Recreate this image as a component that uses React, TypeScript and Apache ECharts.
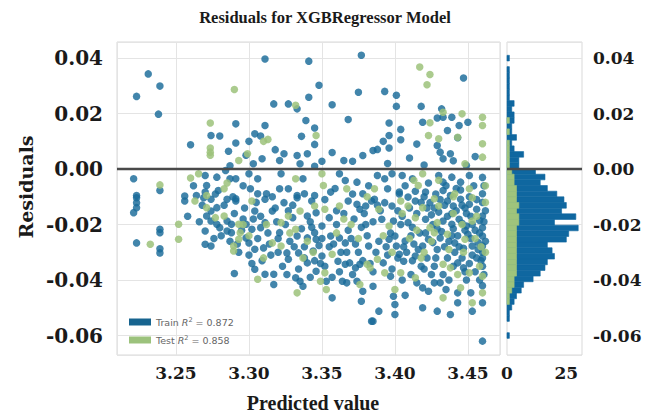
import React, { useEffect, useRef } from 'react';
import * as echarts from 'echarts';

const TITLE = 'Residuals for XGBRegressor Model';
const X_NAME = 'Predicted value';
const Y_NAME = 'Residuals';
const TRAIN_R2 = '0.872';
const TEST_R2 = '0.858';

const X_MIN = 3.2096;
const X_MAX = 3.472;
const Y_MIN = -0.067;
const Y_MAX = 0.0458;
const HIST_MAX = 31.6;
const HIST_TICKS = 25;

// histogram bins (bottom -> top)
const HIST_BIN_START = -0.061;
const HIST_BIN_WIDTH = 0.00204;
const trainHistCounts = [
  1, 0, 0, 1, 1, 2, 3, 4, 6, 7, 11, 14, 16, 17, 20, 19, 17, 25, 26, 30,
  20, 29, 23, 25, 24, 21, 17, 14, 16, 12, 5, 5, 7, 3, 2, 4, 2, 2, 3, 3,
  2, 3, 1, 1, 1, 1, 1, 1, 0, 1,
];
const testHistCounts = [
  0, 0, 0, 0, 0, 0, 1, 1, 2, 3, 3, 4, 4, 4, 4, 4, 4, 4, 4, 4,
  5, 5, 4, 5, 4, 4, 4, 3, 3, 2, 1, 1, 1, 1, 1, 0, 1, 0, 1, 0,
  0, 0, 0, 0, 0, 0, 0, 0, 0, 0,
];

const trainPoints = [
  [3.231, 0.0343], [3.239, 0.0299], [3.223, 0.0262], [3.238, 0.0198], [3.291, 0.0163], [3.274, 0.0121], [3.280, 0.0119], [3.260, 0.0088], [3.291, 0.0094], [3.286, 0.0064],
  [3.221, -0.0035], [3.239, -0.0077], [3.223, -0.0095], [3.223, -0.0103], [3.223, -0.0121], [3.223, -0.0139], [3.221, -0.0157], [3.239, -0.0217], [3.239, -0.0229], [3.223, -0.0266], [3.239, -0.0287], [3.239, -0.0302],
  [3.256, -0.0115], [3.258, -0.0170], [3.270, -0.0271], [3.274, -0.0277], [3.270, -0.0223], [3.290, -0.0376],
  [3.256, -0.0097], [3.270, -0.0023], [3.271, -0.0059], [3.270, -0.0083], [3.278, -0.0029], [3.284, -0.0005], [3.287, -0.0035], [3.291, -0.0035], [3.279, -0.0077], [3.291, -0.0107], [3.264, -0.0095],
  [3.269, -0.0103], [3.274, -0.0109], [3.274, -0.0151], [3.278, -0.0139], [3.285, -0.0109], [3.291, -0.0115], [3.271, -0.0169], [3.274, -0.0187], [3.278, -0.0199], [3.280, -0.0211], [3.285, -0.0187], [3.288, -0.0199], [3.285, -0.0223], [3.288, -0.0229], [3.298, -0.0248],
  [3.311, -0.0109], [3.324, -0.0121], [3.333, -0.0103], [3.343, -0.0115], [3.368, -0.0115], [3.374, -0.0127], [3.376, -0.0145], [3.380, -0.0133], [3.384, -0.0115],
  [3.304, -0.0151], [3.316, -0.0151], [3.340, -0.0169], [3.346, -0.0157],
  [3.298, -0.0199], [3.302, -0.0217], [3.308, -0.0211], [3.311, -0.0193], [3.321, -0.0229], [3.333, -0.0241], [3.340, -0.0248], [3.345, -0.0229], [3.346, -0.0253], [3.356, -0.0241], [3.362, -0.0248], [3.366, -0.0266], [3.382, -0.0277],
  [3.300, -0.0266], [3.304, -0.0289], [3.310, -0.0284], [3.326, -0.0302], [3.327, -0.0325], [3.334, -0.0302], [3.340, -0.0338], [3.344, -0.0295], [3.350, -0.0313], [3.361, -0.0332], [3.366, -0.0343], [3.369, -0.0338], [3.373, -0.0356], [3.376, -0.0343],
  [3.304, -0.0361], [3.311, -0.0379], [3.317, -0.0379], [3.317, -0.0416], [3.332, -0.0392], [3.335, -0.0404], [3.337, -0.0422], [3.353, -0.0404], [3.346, -0.0368], [3.364, -0.0404], [3.367, -0.0410], [3.374, -0.0404], [3.378, -0.0440], [3.357, -0.0464], [3.377, -0.0476], [3.384, -0.0548],
  [3.460, -0.0620], [3.389, -0.0512], [3.400, -0.0524], [3.419, -0.0500], [3.429, -0.0512], [3.438, -0.0524], [3.453, -0.0512], [3.460, -0.0482], [3.407, -0.0455], [3.400, -0.0488], [3.385, -0.0548], [3.443, -0.0482],
  [3.386, -0.0109], [3.393, -0.0121], [3.398, -0.0133], [3.414, -0.0115], [3.424, -0.0121], [3.436, -0.0115], [3.440, -0.0133], [3.445, -0.0109], [3.451, -0.0127], [3.460, -0.0169],
  [3.391, -0.0181], [3.399, -0.0187], [3.409, -0.0193], [3.421, -0.0181], [3.433, -0.0187], [3.439, -0.0199], [3.444, -0.0181], [3.449, -0.0205], [3.460, -0.0211],
  [3.396, -0.0253], [3.400, -0.0241], [3.401, -0.0277], [3.407, -0.0259], [3.419, -0.0277], [3.423, -0.0253], [3.431, -0.0248], [3.441, -0.0266], [3.453, -0.0277], [3.460, -0.0277], [3.460, -0.0241],
  [3.392, -0.0338], [3.403, -0.0307], [3.406, -0.0332], [3.414, -0.0313], [3.422, -0.0320], [3.427, -0.0350], [3.443, -0.0338], [3.447, -0.0356], [3.460, -0.0320], [3.460, -0.0350],
  [3.397, -0.0386], [3.419, -0.0428], [3.423, -0.0440], [3.431, -0.0410], [3.435, -0.0434], [3.443, -0.0446], [3.452, -0.0446], [3.385, -0.0422], [3.399, -0.0458],
  [3.311, 0.0397], [3.341, 0.0389], [3.377, 0.0410], [3.348, 0.0302], [3.341, 0.0259], [3.375, 0.0277], [3.317, 0.0235], [3.327, 0.0235], [3.333, 0.0217], [3.357, 0.0232], [3.339, 0.0175], [3.368, 0.0179], [3.311, 0.0157], [3.345, 0.0148], [3.304, 0.0127], [3.308, 0.0119], [3.336, 0.0118], [3.345, 0.0089], [3.324, 0.0055], [3.333, 0.0049], [3.340, 0.0055], [3.378, 0.0049], [3.309, 0.0037], [3.303, 0.0019], [3.321, 0.0031], [3.335, 0.0019], [3.350, 0.0028], [3.365, 0.0031], [3.371, 0.0028], [3.385, 0.0067],
  [3.447, 0.0328], [3.393, 0.0280], [3.401, 0.0266], [3.401, 0.0226], [3.418, 0.0226], [3.432, 0.0217], [3.396, 0.0166], [3.419, 0.0169], [3.429, 0.0184], [3.433, 0.0187], [3.439, 0.0187], [3.444, 0.0157], [3.450, 0.0169], [3.436, 0.0139], [3.443, 0.0113], [3.404, 0.0143], [3.396, 0.0121], [3.404, 0.0106], [3.429, 0.0085], [3.388, 0.0071], [3.396, 0.0076], [3.431, 0.0061], [3.438, 0.0055], [3.433, 0.0037], [3.449, 0.0013],
  [3.388, -0.0023], [3.393, -0.0035], [3.398, -0.0017], [3.405, -0.0023], [3.412, -0.0035], [3.430, -0.0023], [3.433, -0.0047], [3.439, -0.0029], [3.445, -0.0047], [3.451, -0.0023], [3.395, -0.0071], [3.403, -0.0083], [3.421, -0.0083], [3.433, -0.0077], [3.460, -0.0089], [3.409, -0.0101],
  [3.300, -0.0017], [3.306, -0.0035], [3.301, -0.0071], [3.312, -0.0089], [3.321, -0.0071], [3.327, -0.0071], [3.322, -0.0017], [3.337, -0.0035], [3.338, -0.0089], [3.356, -0.0083], [3.362, -0.0017], [3.366, -0.0041], [3.374, -0.0047], [3.378, -0.0089], [3.345, -0.0095], [3.333, -0.0095], [3.306, -0.0089],
  [3.460, -0.0030], [3.460, -0.0120], [3.461, -0.0190], [3.460, -0.0300], [3.461, -0.0380], [3.460, -0.0420], [3.461, -0.0060],
  [3.402, -0.0150], [3.405, -0.0170], [3.410, -0.0140], [3.412, -0.0210], [3.415, -0.0160], [3.417, -0.0230], [3.420, -0.0100], [3.422, -0.0140], [3.425, -0.0165], [3.426, -0.0200], [3.428, -0.0090], [3.430, -0.0155], [3.432, -0.0225], [3.434, -0.0130], [3.436, -0.0170], [3.437, -0.0260], [3.438, -0.0095], [3.440, -0.0215], [3.442, -0.0150], [3.443, -0.0240], [3.445, -0.0075], [3.446, -0.0195], [3.447, -0.0285], [3.448, -0.0140], [3.450, -0.0235], [3.451, -0.0100], [3.452, -0.0170], [3.453, -0.0310], [3.454, -0.0060], [3.455, -0.0220], [3.456, -0.0145], [3.457, -0.0265], [3.458, -0.0185], [3.459, -0.0330], [3.455, -0.0370], [3.449, -0.0400], [3.441, -0.0300], [3.436, -0.0320], [3.429, -0.0290], [3.425, -0.0380], [3.418, -0.0350], [3.413, -0.0270], [3.411, -0.0380], [3.408, -0.0300], [3.404, -0.0200], [3.397, -0.0230], [3.394, -0.0280], [3.390, -0.0150], [3.389, -0.0260], [3.387, -0.0300], [3.385, -0.0190], [3.383, -0.0340], [3.381, -0.0240], [3.379, -0.0160], [3.377, -0.0210], [3.375, -0.0300], [3.372, -0.0180], [3.370, -0.0250], [3.368, -0.0220], [3.365, -0.0160], [3.363, -0.0300], [3.360, -0.0200], [3.358, -0.0270], [3.355, -0.0175], [3.352, -0.0350], [3.350, -0.0205], [3.348, -0.0275], [3.345, -0.0330], [3.342, -0.0190], [3.338, -0.0280], [3.336, -0.0215], [3.334, -0.0360], [3.330, -0.0175], [3.328, -0.0260], [3.325, -0.0200], [3.323, -0.0350], [3.320, -0.0250], [3.318, -0.0140], [3.315, -0.0310], [3.313, -0.0230], [3.309, -0.0330], [3.306, -0.0250], [3.303, -0.0180], [3.300, -0.0310], [3.297, -0.0140], [3.295, -0.0220], [3.293, -0.0300], [3.290, -0.0160], [3.287, -0.0260], [3.283, -0.0130], [3.281, -0.0240], [3.277, -0.0090], [3.276, -0.0250], [3.268, -0.0130], [3.266, -0.0190], [3.262, -0.0060],
  [3.395, 0.0020], [3.410, 0.0040], [3.420, 0.0015], [3.440, 0.0030], [3.455, 0.0045], [3.415, 0.0090], [3.392, 0.0100], [3.357, 0.0060], [3.345, 0.0010], [3.318, 0.0070], [3.298, 0.0050], [3.287, 0.0012], [3.300, 0.0100],
  [3.403, -0.0090], [3.407, -0.0060], [3.414, -0.0080], [3.418, -0.0120], [3.423, -0.0050], [3.427, -0.0140], [3.431, -0.0110], [3.435, -0.0060], [3.439, -0.0160], [3.442, -0.0070], [3.446, -0.0130], [3.449, -0.0160], [3.453, -0.0200], [3.456, -0.0110], [3.458, -0.0230], [3.462, -0.0150], [3.462, -0.0260], [3.457, -0.0290], [3.452, -0.0250], [3.448, -0.0220], [3.444, -0.0280], [3.439, -0.0240], [3.434, -0.0280], [3.429, -0.0215], [3.426, -0.0265], [3.421, -0.0230], [3.416, -0.0290], [3.411, -0.0240], [3.406, -0.0280], [3.402, -0.0320], [3.398, -0.0360], [3.395, -0.0310], [3.412, -0.0330], [3.420, -0.0360], [3.428, -0.0320], [3.433, -0.0380], [3.440, -0.0350], [3.446, -0.0320], [3.451, -0.0340], [3.456, -0.0320], [3.458, -0.0400], [3.448, -0.0370], [3.437, -0.0400], [3.427, -0.0410], [3.415, -0.0410], [3.405, -0.0400],
  [3.380, -0.0200], [3.373, -0.0270], [3.367, -0.0300], [3.360, -0.0150], [3.355, -0.0280], [3.350, -0.0250], [3.343, -0.0210], [3.338, -0.0320], [3.331, -0.0280], [3.327, -0.0150], [3.319, -0.0190], [3.314, -0.0270], [3.308, -0.0170], [3.302, -0.0340], [3.296, -0.0180], [3.292, -0.0270], [3.385, -0.0370], [3.378, -0.0330], [3.371, -0.0380], [3.362, -0.0370], [3.357, -0.0390], [3.349, -0.0340], [3.342, -0.0390], [3.326, -0.0380], [3.320, -0.0300], [3.289, -0.0100], [3.296, -0.0060], [3.305, -0.0120], [3.316, -0.0100], [3.330, -0.0130], [3.352, -0.0110], [3.359, -0.0070], [3.371, -0.0090], [3.382, -0.0060], [3.388, -0.0130],
];

const testPoints = [
  [3.290, 0.0287], [3.2735, 0.0166], [3.2735, 0.0076], [3.2735, 0.0061], [3.2735, 0.0050], [3.293, 0.0031], [3.239, -0.0057], [3.260, -0.0032], [3.2655, -0.0017],
  [3.2324, -0.0271], [3.2518, -0.0199], [3.2518, -0.0253], [3.2895, -0.0277], [3.2895, -0.0295],
  [3.283, -0.0071], [3.271, -0.0095], [3.263, -0.0115], [3.271, -0.0139], [3.277, -0.0175], [3.283, -0.0169], [3.293, -0.0199], [3.294, -0.0229], [3.293, -0.0253],
  [3.302, -0.0115], [3.345, -0.0133], [3.352, -0.0145], [3.362, -0.0133], [3.327, -0.0169], [3.335, -0.0151], [3.322, -0.0193], [3.332, -0.0217], [3.316, -0.0266], [3.322, -0.0277], [3.337, -0.0320], [3.357, -0.0307], [3.381, -0.0343], [3.383, -0.0356], [3.306, -0.0397], [3.333, -0.0446], [3.349, -0.0404], [3.352, -0.0374], [3.353, -0.0434], [3.376, -0.0416],
  [3.460, -0.0446], [3.389, -0.0145], [3.404, -0.0115], [3.409, -0.0133], [3.419, -0.0139], [3.430, -0.0133], [3.453, -0.0103], [3.396, -0.0205], [3.414, -0.0175], [3.424, -0.0211], [3.429, -0.0193], [3.453, -0.0187], [3.427, -0.0229], [3.436, -0.0235], [3.448, -0.0253], [3.388, -0.0325], [3.433, -0.0343], [3.438, -0.0356], [3.451, -0.0374], [3.460, -0.0386], [3.393, -0.0374], [3.404, -0.0374], [3.414, -0.0392], [3.433, -0.0464], [3.445, -0.0428], [3.453, -0.0482], [3.400, -0.0434],
  [3.310, 0.0100], [3.313, 0.0107], [3.332, 0.0230], [3.346, 0.0121], [3.299, 0.0055], [3.417, 0.0368], [3.424, 0.0341], [3.422, 0.0304], [3.433, 0.0205], [3.446, 0.0199], [3.460, 0.0187], [3.460, 0.0157], [3.460, 0.0091], [3.460, 0.0043], [3.424, 0.0167], [3.443, 0.0115], [3.423, 0.0121], [3.430, 0.0109], [3.448, 0.0019],
  [3.419, -0.0017], [3.386, -0.0071], [3.416, -0.0059], [3.441, -0.0089], [3.451, -0.0071], [3.427, -0.0107], [3.332, -0.0035], [3.350, -0.0017], [3.351, -0.0059], [3.367, -0.0071],
  [3.440, -0.0160], [3.447, -0.0300], [3.455, -0.0250], [3.410, -0.0250], [3.420, -0.0300], [3.398, -0.0300], [3.370, -0.0200], [3.360, -0.0230], [3.340, -0.0260], [3.312, -0.0200], [3.300, -0.0240], [3.285, -0.0050], [3.430, -0.0040], [3.462, -0.0120], [3.462, -0.0060], [3.462, -0.0300],
  [3.405, -0.0160], [3.415, -0.0220], [3.425, -0.0260], [3.437, -0.0290], [3.446, -0.0200], [3.456, -0.0170], [3.458, -0.0350], [3.443, -0.0380], [3.418, -0.0320], [3.392, -0.0240], [3.375, -0.0250], [3.365, -0.0180], [3.344, -0.0300], [3.328, -0.0230], [3.310, -0.0320], [3.296, -0.0200], [3.381, -0.0100], [3.413, -0.0040], [3.440, -0.0100], [3.459, -0.0280],
];

const TRAIN_COLOR = '#186a99';
const TEST_COLOR = '#9cc27a';
const TRAIN_HIST_COLOR = '#0f67a0';
const TEST_HIST_COLOR = '#9fc47c';
const TICK_COLOR = '#1a1a1a';
const GRID_COLOR = '#e4e4e4';

function histData(counts: number[]) {
  return counts
    .map((c, i) => [HIST_BIN_START + i * HIST_BIN_WIDTH, HIST_BIN_START + (i + 1) * HIST_BIN_WIDTH, c])
    .filter((d) => d[2] > 0);
}

function renderBar(color: string) {
  return (params: any, api: any) => {
    const lo = api.value(0);
    const hi = api.value(1);
    const c = api.value(2);
    const p1 = api.coord([0, hi]);
    const p2 = api.coord([c, lo]);
    return {
      type: 'rect',
      shape: { x: p1[0], y: p1[1], width: p2[0] - p1[0], height: p2[1] - p1[1] },
      style: { fill: color, stroke: color, lineWidth: 0.6 },
    };
  };
}

const zeroLine = (xi: number) => ({
  type: 'line',
  xAxisIndex: xi,
  yAxisIndex: xi,
  data: [],
  silent: true,
  z: 6,
  markLine: {
    silent: true,
    symbol: ['none', 'none'],
    label: { show: false },
    lineStyle: { color: '#4a4a4a', width: 2.4, type: 'solid' },
    data: [{ yAxis: 0 }],
  },
});

export default function App() {
  const ref = useRef<HTMLDivElement>(null);
  useEffect(() => {
    if (!ref.current) return;
    const chart = echarts.init(ref.current, undefined, { renderer: 'svg' });
    const tickFont = { fontFamily: 'DejaVu Serif', fontWeight: 'bold' as const, color: TICK_COLOR };
    chart.setOption({
      animation: false,
      backgroundColor: '#ffffff',
      graphic: [
        {
          type: 'text', x: 325, y: 17, z: 10,
          style: { text: TITLE, fill: '#1a1a1a', font: 'bold 16.5px "Liberation Serif"', align: 'center', verticalAlign: 'middle' },
        },
        {
          type: 'text', x: 313, y: 403, z: 10,
          style: { text: X_NAME, fill: '#1a1a1a', font: 'bold 20px "Liberation Serif"', align: 'center', verticalAlign: 'middle' },
        },
        {
          type: 'text', x: 26, y: 187, rotation: Math.PI / 2, z: 10,
          style: { text: Y_NAME, fill: '#1a1a1a', font: 'bold 19px "DejaVu Serif"', align: 'center', verticalAlign: 'middle' },
        },
      ],
      legend: {
        left: 124,
        top: 311,
        orient: 'vertical',
        itemWidth: 22,
        itemHeight: 7,
        itemGap: 7,
        data: [
          { name: 'train', icon: 'rect', itemStyle: { color: '#17648f', opacity: 1 } },
          { name: 'test', icon: 'rect', itemStyle: { color: '#9cc27c', opacity: 1 } },
        ],
        formatter: (name: string) =>
          name === 'train' ? `Train {i|R}{s|2} = ${TRAIN_R2}` : `Test {i|R}{s|2} = ${TEST_R2}`,
        textStyle: {
          fontFamily: 'DejaVu Sans',
          fontSize: 9.5,
          color: '#666',
          rich: {
            i: { fontFamily: 'DejaVu Sans', fontStyle: 'italic', fontSize: 9.5, color: '#666' },
            s: { fontFamily: 'DejaVu Sans', fontSize: 6.5, color: '#666', verticalAlign: 'top', padding: [0, 0, 5, 0] },
          },
        },
      },
      grid: [
        { left: 117, top: 42, width: 383, height: 313, show: true, borderColor: '#d9d9d9', borderWidth: 1, backgroundColor: '#fff' },
        { left: 507, top: 42, width: 75, height: 313, show: true, borderColor: '#d9d9d9', borderWidth: 1, backgroundColor: '#fff' },
      ],
      xAxis: [
        {
          type: 'value', gridIndex: 0, min: X_MIN, max: X_MAX, splitNumber: 5,
          axisLine: { show: false }, axisTick: { show: false },
          axisLabel: { ...tickFont, fontSize: 17, margin: 9, showMinLabel: false, showMaxLabel: false, formatter: (v: number) => v.toFixed(2) },
          splitLine: { show: true, lineStyle: { color: GRID_COLOR, width: 1 } },
        },
        {
          type: 'value', gridIndex: 1, min: 0, max: HIST_MAX, interval: HIST_TICKS,
          axisLine: { show: false }, axisTick: { show: false },
          axisLabel: { ...tickFont, fontSize: 17, margin: 9, showMaxLabel: false, formatter: (v: number) => String(Math.round(v)) },
          splitLine: { show: false },
        },
      ],
      yAxis: [
        {
          type: 'value', gridIndex: 0, min: Y_MIN, max: Y_MAX, splitNumber: 5,
          axisLine: { show: false }, axisTick: { show: false },
          axisLabel: { ...tickFont, fontSize: 20, margin: 14, showMinLabel: false, showMaxLabel: false, formatter: (v: number) => v.toFixed(2) },
          splitLine: { show: true, lineStyle: { color: GRID_COLOR, width: 1 } },
        },
        {
          type: 'value', gridIndex: 1, position: 'right', min: Y_MIN, max: Y_MAX, splitNumber: 5,
          axisLine: { show: false }, axisTick: { show: false },
          axisLabel: { ...tickFont, fontSize: 17, margin: 11, showMinLabel: false, showMaxLabel: false, formatter: (v: number) => v.toFixed(2) },
          splitLine: { show: true, lineStyle: { color: GRID_COLOR, width: 1 } },
        },
      ],
      series: [
        {
          name: 'train', type: 'scatter', xAxisIndex: 0, yAxisIndex: 0,
          data: trainPoints, symbolSize: 7.5,
          itemStyle: { color: TRAIN_COLOR, opacity: 0.82 },
          z: 2,
        },
        {
          name: 'test', type: 'scatter', xAxisIndex: 0, yAxisIndex: 0,
          data: testPoints, symbolSize: 7.5,
          itemStyle: { color: TEST_COLOR, opacity: 0.85 },
          z: 3,
        },
        {
          name: 'trainHist', type: 'custom', xAxisIndex: 1, yAxisIndex: 1,
          data: histData(trainHistCounts), encode: { x: 2, y: [0, 1] },
          renderItem: renderBar(TRAIN_HIST_COLOR), z: 2,
        },
        {
          name: 'testHist', type: 'custom', xAxisIndex: 1, yAxisIndex: 1,
          data: histData(testHistCounts), encode: { x: 2, y: [0, 1] },
          renderItem: renderBar(TEST_HIST_COLOR), z: 3,
        },
        zeroLine(0),
        zeroLine(1),
      ],
    });
    return () => chart.dispose();
  }, []);
  return <div ref={ref} style={{ position: 'fixed', left: 0, top: 0, width: 650, height: 417 }} />;
}
